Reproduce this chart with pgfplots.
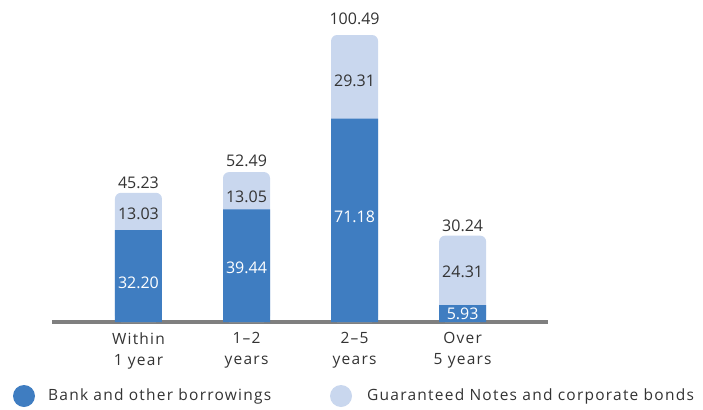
\documentclass[border=0pt]{standalone}
\usepackage{pgfplots}
\pgfplotsset{compat=1.18}
\usepackage{fontspec}
\setmainfont{Open Sans}
\newfontfamily\wordfont[LetterSpace=8]{Open Sans}
\definecolor{darkb}{HTML}{3F7DC1}
\definecolor{lightb}{HTML}{C9D7EE}
\definecolor{txt}{HTML}{333333}
\definecolor{axisgray}{HTML}{7F7F7F}
\newcommand{\lf}{\fontsize{16}{20.5}\selectfont}
\newcommand{\wf}{\wordfont\fontsize{15.5}{21}\selectfont}
\begin{document}
\begin{tikzpicture}[x=1pt,y=1pt]
\path[use as bounding box] (0pt,0pt) rectangle (703pt,-409pt);
\begin{axis}[
  at={(52pt,-322pt)}, anchor=south west,
  scale only axis, width=496pt, height=322pt,
  xmin=-0.8, xmax=3.79, ymin=0, ymax=112.75,
  axis x line=bottom, axis y line=none,
  x axis line style={-, draw=axisgray, line width=3.5pt},
  xtick={0,1,2,3},
  xticklabels={{Within\\1 year},{1–2\\years},{2–5\\years},{Over\\5 years}},
  xticklabel style={align=center, font=\wf, text=txt, yshift=-7pt},
  major tick length=0,
  clip=false,
  /pgf/number format/assume math mode=true,
]
% totals (light top segment, rounded)
\addplot[ybar, bar width=47pt, bar shift=0pt, fill=lightb, draw=none, rounded corners=6pt]
  coordinates {(0,45.23) (1,52.49) (2,100.49) (3,30.24)};
% bank and other borrowings
\addplot[ybar, bar width=47pt, bar shift=0pt, fill=darkb, draw=none]
  coordinates {(0,32.20) (1,39.44) (2,71.18) (3,5.93)};
% labels: totals
\addplot[draw=none, mark=none, nodes near coords, point meta=explicit symbolic,
  every node near coord/.style={anchor=center, text=txt, font=\lf}]
  coordinates {(0,48.9)[45.23] (1,56.5)[52.49] (2,106.0)[100.49] (3,33.8)[30.24]};
% labels: light segments
\addplot[draw=none, mark=none, nodes near coords, point meta=explicit symbolic,
  every node near coord/.style={anchor=center, text=txt, font=\lf}]
  coordinates {(0,37.9)[13.03] (1,43.8)[13.05] (2,84.3)[29.31] (3,17.6)[24.31]};
% labels: dark segments
\addplot[draw=none, mark=none, nodes near coords, point meta=explicit symbolic,
  every node near coord/.style={anchor=center, text=white, font=\lf}]
  coordinates {(0,13.7)[32.20] (1,18.8)[39.44] (2,37.0)[71.18] (3,3.0)[5.93]};
\end{axis}
\fill[darkb] (24pt,-396pt) circle (11pt);
\node[anchor=west, inner sep=0pt, text=txt, font=\wf] at (48pt,-396pt) {Bank and other borrowings};
\fill[lightb] (341pt,-396pt) circle (11pt);
\node[anchor=west, inner sep=0pt, text=txt, font=\wf] at (367pt,-396pt) {Guaranteed Notes and corporate bonds};
\end{tikzpicture}
\end{document}
